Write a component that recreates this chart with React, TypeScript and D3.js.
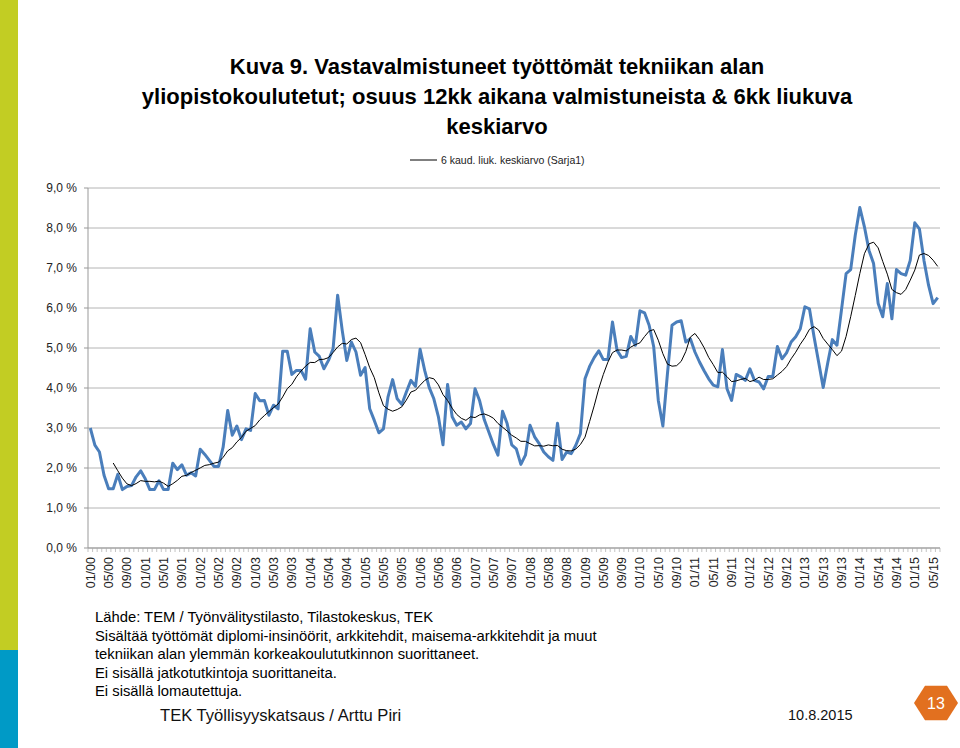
import React from "react";
import * as d3 from "d3";

const TITLE_LINES = [
  "Kuva 9. Vastavalmistuneet työttömät tekniikan alan",
  "yliopistokoulutetut; osuus 12kk aikana valmistuneista & 6kk liukuva",
  "keskiarvo",
];
const LEGEND_LABEL = "6 kaud. liuk. keskiarvo (Sarja1)";
const Y_TICKS = [0, 1, 2, 3, 4, 5, 6, 7, 8, 9];
const Y_TICK_LABELS = ["0,0 %", "1,0 %", "2,0 %", "3,0 %", "4,0 %", "5,0 %", "6,0 %", "7,0 %", "8,0 %", "9,0 %"];
const X_TICK_LABELS = [
  "01/00", "05/00", "09/00", "01/01", "05/01", "09/01", "01/02", "05/02", "09/02",
  "01/03", "05/03", "09/03", "01/04", "05/04", "09/04", "01/05", "05/05", "09/05",
  "01/06", "05/06", "09/06", "01/07", "05/07", "09/07", "01/08", "05/08", "09/08",
  "01/09", "05/09", "09/09", "01/10", "05/10", "09/10", "01/11", "05/11", "09/11",
  "01/12", "05/12", "09/12", "01/13", "05/13", "09/13", "01/14", "05/14", "09/14",
  "01/15", "05/15",
];
const LABEL_EVERY = 4;
const MA_PERIOD = 6;

// Monthly values 01/2000 .. 06/2015 (%)
const VALUES = [
  3.0, 2.57, 2.4, 1.82, 1.48, 1.48, 1.84, 1.46, 1.54, 1.56, 1.78, 1.93,
  1.73, 1.46, 1.46, 1.68, 1.46, 1.46, 2.12, 1.96, 2.08, 1.82, 1.88, 1.8,
  2.47, 2.34, 2.19, 2.04, 2.04, 2.52, 3.44, 2.82, 3.05, 2.71, 2.98, 2.94,
  3.86, 3.68, 3.69, 3.32, 3.57, 3.48, 4.92, 4.92, 4.34, 4.44, 4.44, 4.22,
  5.48, 4.9, 4.79, 4.48, 4.69, 4.98, 6.32, 5.44, 4.69, 5.15, 4.9, 4.32,
  4.51, 3.48, 3.19, 2.88, 2.98, 3.78, 4.21, 3.73, 3.59, 3.9, 4.19, 4.04,
  4.97, 4.44, 4.01, 3.73, 3.28, 2.58, 4.09, 3.28, 3.07, 3.15, 2.98, 3.11,
  3.98, 3.68, 3.21, 2.9, 2.59, 2.32, 3.42, 3.11, 2.58, 2.48, 2.09, 2.32,
  3.07, 2.78, 2.61, 2.4, 2.28, 2.19, 3.12, 2.21, 2.4, 2.36, 2.57, 2.86,
  4.23, 4.54, 4.76, 4.93, 4.71, 4.71, 5.65, 4.94, 4.76, 4.79, 5.29, 5.07,
  5.93, 5.88, 5.57, 5.03, 3.69, 3.05, 4.36, 5.57, 5.65, 5.68, 5.15, 5.23,
  4.9, 4.65, 4.43, 4.23, 4.07, 4.03, 4.96, 3.98, 3.69, 4.34, 4.28, 4.19,
  4.48, 4.19, 4.15, 3.98, 4.29, 4.29, 5.04, 4.73, 4.88, 5.15, 5.28, 5.48,
  6.03, 5.98, 5.28, 4.65, 4.01, 4.63, 5.21, 5.07, 5.96, 6.86, 6.96, 7.82,
  8.51, 8.03, 7.44, 7.11, 6.11, 5.78, 6.61, 5.73, 6.96, 6.86, 6.82, 7.19,
  8.13, 7.98, 7.19, 6.57, 6.11, 6.26,
];

const FOOTNOTES = [
  "Lähde: TEM / Työnvälitystilasto, Tilastokeskus, TEK",
  "Sisältää työttömät diplomi-insinöörit, arkkitehdit, maisema-arkkitehdit ja muut",
  "tekniikan alan ylemmän korkeakoulututkinnon suorittaneet.",
  "Ei sisällä jatkotutkintoja suorittaneita.",
  "Ei sisällä lomautettuja.",
];
const FOOTER_LEFT = "TEK Työllisyyskatsaus / Arttu Piri";
const FOOTER_DATE = "10.8.2015";
const PAGE_NUMBER = "13";

export default function App() {
  const W = 960;
  const H = 748;
  const left = 88, right = 940, top = 188, bottom = 548;
  const idx = VALUES.map((_, i) => i);
  const x = d3.scaleBand<number>().domain(idx).range([left, right]).paddingInner(0).paddingOuter(0);
  const bw = x.bandwidth();
  const cx = (i: number) => (x(i) as number) + bw / 2;
  const y = d3.scaleLinear().domain([0, 9]).range([bottom, top]);

  const line = d3.line<number>().x((_, i) => cx(i)).y((d) => y(d));
  const ma: [number, number][] = [];
  for (let i = MA_PERIOD - 1; i < VALUES.length; i++) {
    ma.push([i, d3.mean(VALUES.slice(i - MA_PERIOD + 1, i + 1)) as number]);
  }
  const maLine = d3.line<[number, number]>().x((d) => cx(d[0])).y((d) => y(d[1]));

  const hexR = 22;
  const hexCx = 936, hexCy = 703;
  const hex = d3.range(6).map((k) => {
    const a = (Math.PI / 3) * k;
    return [hexCx + hexR * Math.cos(a), hexCy + hexR * 0.9 * Math.sin(a)].join(",");
  }).join(" ");

  const font = "'Liberation Sans', Arial, sans-serif";

  return (
    <svg width={W} height={H} viewBox={`0 0 ${W} ${H}`}
      style={{ position: "absolute", left: 0, top: 0, background: "#fff" }}>
      <rect x={0} y={0} width={W} height={H} fill="#fff" />
      <rect x={0} y={0} width={18} height={650} fill="#c2cd23" />
      <rect x={0} y={650} width={18} height={98} fill="#009ac6" />

      {TITLE_LINES.map((t, i) => (
        <text key={i} x={497} y={74 + i * 30} textAnchor="middle" fontFamily={font}
          fontWeight="bold" fontSize={22} fill="#000">{t}</text>
      ))}

      <line x1={410} x2={437} y1={160} y2={160} stroke="#000" strokeWidth={1} />
      <text x={441} y={164} fontFamily={font} fontSize={10.5} fill="#222">{LEGEND_LABEL}</text>

      {Y_TICKS.map((t, i) => (
        <g key={t}>
          <line x1={left} x2={right} y1={y(t)} y2={y(t)} stroke="#b4b4b4" strokeWidth={1} />
          <line x1={left - 4} x2={left} y1={y(t)} y2={y(t)} stroke="#999" strokeWidth={1} />
          <text x={77} y={y(t) + 4} textAnchor="end" fontFamily={font} fontSize={12} fill="#222">
            {Y_TICK_LABELS[i]}
          </text>
        </g>
      ))}
      <line x1={left} x2={left} y1={top} y2={bottom} stroke="#999" strokeWidth={1} />
      <line x1={left} x2={right} y1={bottom} y2={bottom} stroke="#999" strokeWidth={1} />
      {idx.concat([VALUES.length]).map((i) => {
        const xx = i < VALUES.length ? (x(i) as number) : right;
        return <line key={"t" + i} x1={xx} x2={xx} y1={bottom} y2={bottom + 4} stroke="#aaa" strokeWidth={0.7} />;
      })}
      {X_TICK_LABELS.map((lab, k) => {
        const xx = cx(k * LABEL_EVERY) + 4.5;
        return (
          <text key={lab} transform={`translate(${xx},${557}) rotate(-90)`} textAnchor="end"
            fontFamily={font} fontSize={12.5} fill="#222">{lab}</text>
        );
      })}

      <path d={line(VALUES) || ""} fill="none" stroke="#4a7ebb" strokeWidth={3} strokeLinejoin="round" />
      <path d={maLine(ma) || ""} fill="none" stroke="#000" strokeWidth={1} />

      {FOOTNOTES.map((t, i) => (
        <text key={i} x={95} y={622 + i * 18.6} fontFamily={font} fontSize={14.8} fill="#000">{t}</text>
      ))}
      <text x={160} y={721} fontFamily={font} fontSize={16.6} fill="#111">{FOOTER_LEFT}</text>
      <text x={788} y={720} fontFamily={font} fontSize={14.5} fill="#111">{FOOTER_DATE}</text>
      <polygon points={hex} fill="#e2701f" />
      <text x={hexCx} y={hexCy + 6} textAnchor="middle" fontFamily={font} fontSize={16} fill="#fff">{PAGE_NUMBER}</text>
    </svg>
  );
}
